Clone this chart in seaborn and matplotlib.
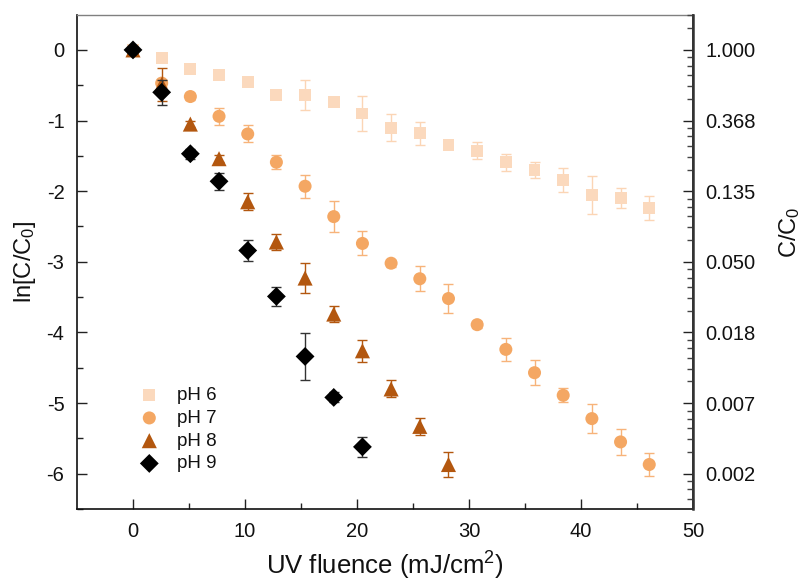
import numpy as np
import pandas as pd
import matplotlib
matplotlib.use("Agg")
import matplotlib.pyplot as plt
import seaborn as sns

# UV fluence (mJ/cm2) and ln[C/C0] with standard deviations for each pH
ph6_x = [0, 2.56, 5.12, 7.68, 10.24, 12.8, 15.36, 17.92, 20.48, 23.04, 25.6,
         28.16, 30.72, 33.28, 35.84, 38.4, 40.96, 43.52, 46.08]
ph6_y = [0, -0.11, -0.27, -0.36, -0.46, -0.64, -0.64, -0.74, -0.90, -1.10, -1.18,
         -1.35, -1.43, -1.59, -1.70, -1.84, -2.05, -2.10, -2.24]
ph6_err = [0, 0.03, 0.03, 0.03, 0.03, 0.04, 0.21, 0.04, 0.25, 0.19, 0.16,
           0.04, 0.12, 0.12, 0.11, 0.17, 0.27, 0.14, 0.165]

ph7_x = [0, 2.56, 5.12, 7.68, 10.24, 12.8, 15.36, 17.92, 20.48, 23.04, 25.6,
         28.16, 30.72, 33.28, 35.84, 38.4, 40.96, 43.52, 46.08]
ph7_y = [0, -0.47, -0.66, -0.94, -1.19, -1.59, -1.93, -2.36, -2.74, -3.02, -3.24,
         -3.52, -3.89, -4.24, -4.57, -4.89, -5.22, -5.55, -5.87]
ph7_err = [0, 0.05, 0.05, 0.12, 0.12, 0.10, 0.16, 0.22, 0.17, 0.05, 0.18,
           0.21, 0.05, 0.16, 0.18, 0.10, 0.21, 0.18, 0.16]

ph8_x = [0, 2.56, 5.12, 7.68, 10.24, 12.8, 15.36, 17.92, 20.48, 23.04, 25.6, 28.16]
ph8_y = [0, -0.49, -1.05, -1.54, -2.15, -2.72, -3.23, -3.74, -4.26, -4.80, -5.33, -5.87]
ph8_err = [0, 0.24, 0.04, 0.05, 0.12, 0.11, 0.21, 0.11, 0.16, 0.12, 0.12, 0.18]

ph9_x = [0, 2.56, 5.12, 7.68, 10.24, 12.8, 15.36, 17.92, 20.48]
ph9_y = [0, -0.60, -1.47, -1.86, -2.84, -3.49, -4.34, -4.92, -5.62]
ph9_err = [0, 0.18, 0.07, 0.12, 0.15, 0.13, 0.33, 0.07, 0.14]

series_labels = ["pH 6", "pH 7", "pH 8", "pH 9"]
series_colors = ["#fbd9bd", "#f4a763", "#b3570f", "#000000"]
errbar_colors = ["#fbd5b5", "#f7b37a", "#b3570f", "#333333"]
series_markers = ["s", "o", "^", "D"]
series_sizes = [74, 88, 118, 92]

left_ticks = [0, -1, -2, -3, -4, -5, -6]
right_tick_labels = ["1.000", "0.368", "0.135", "0.050", "0.018", "0.007", "0.002"]

sns.set_theme(style="ticks")
plt.rcParams["font.family"] = ["Liberation Sans", "DejaVu Sans"]
plt.rcParams["mathtext.fontset"] = "custom"
plt.rcParams["mathtext.rm"] = "Liberation Sans"
plt.rcParams["mathtext.it"] = "Liberation Sans:italic"

frames = []
for lab, xs, ys, es in zip(series_labels,
                           [ph6_x, ph7_x, ph8_x, ph9_x],
                           [ph6_y, ph7_y, ph8_y, ph9_y],
                           [ph6_err, ph7_err, ph8_err, ph9_err]):
    frames.append(pd.DataFrame({"fluence": xs, "lnC": ys, "sd": es, "pH": lab}))
df = pd.concat(frames, ignore_index=True)

fig = plt.figure(figsize=(8.06, 5.84), dpi=100)
ax = fig.add_axes([0.0955, 0.1284, 0.7645, 0.8466])

for i, lab in enumerate(series_labels):
    d = df[df["pH"] == lab]
    ax.errorbar(d["fluence"], d["lnC"], yerr=d["sd"], fmt="none",
                ecolor=errbar_colors[i], elinewidth=1.0, capsize=3.6,
                capthick=1.0, zorder=2 + i * 2)
    sns.scatterplot(data=d, x="fluence", y="lnC", ax=ax, marker=series_markers[i],
                    color=series_colors[i], s=series_sizes[i], edgecolor="none",
                    linewidth=0, label=lab, zorder=3 + i * 2)

ax.set_xlim(-5, 50)
ax.set_ylim(-6.5, 0.5)
ax.set_xticks([0, 10, 20, 30, 40, 50])
ax.set_xticks([5, 15, 25, 35, 45], minor=True)
ax.set_yticks(left_ticks)
ax.set_yticklabels([str(t) for t in left_ticks])
ax.set_yticks([-0.5, -1.5, -2.5, -3.5, -4.5, -5.5, -6.5], minor=True)

ax.tick_params(axis="both", which="major", direction="in", length=7, width=1,
               color="#222222", labelsize=14.5, pad=9, labelcolor="#111111")
ax.tick_params(axis="both", which="minor", direction="in", length=4, width=1,
               color="#222222")
ax.tick_params(axis="y", which="both", right=False)
ax.tick_params(axis="x", which="both", top=False)

ax.set_xlabel("UV fluence (mJ/cm$^2$)", fontsize=18.5, labelpad=7, color="#111111")
ax.set_ylabel("ln[C/C$_0$]", fontsize=17, labelpad=6, color="#111111")

for side in ["left", "bottom"]:
    ax.spines[side].set_color("#111111")
    ax.spines[side].set_linewidth(1.2)
ax.spines["top"].set_color("#808080")
ax.spines["top"].set_linewidth(1.0)

# Secondary axis: the same ln scale labelled as C/C0 ratios
ax2 = ax.twinx()
ax2.set_ylim(ax.get_ylim())
ax2.set_yticks(left_ticks)
ax2.set_yticklabels(right_tick_labels)
minor_right = []
for t in [1] + left_ticks:
    for k in [0.9, 0.8, 0.7, 0.6, 0.5]:
        v = t + np.log(k)
        if -6.5 < v < 0.5:
            minor_right.append(v)
ax2.set_yticks(minor_right, minor=True)
ax2.tick_params(axis="y", which="major", direction="in", length=7, width=1,
                color="#222222", labelsize=14.5, pad=9, labelcolor="#111111")
ax2.tick_params(axis="y", which="minor", direction="in", length=4, width=1,
                color="#444444")
ax2.set_ylabel("C/C$_0$", fontsize=17, color="#111111")
ax2.yaxis.set_label_coords(1.136, 0.56)
ax2.spines["right"].set_color("#333333")
ax2.spines["right"].set_linewidth(1.8)
for side in ["top", "left", "bottom"]:
    ax2.spines[side].set_visible(False)

leg = ax.legend(loc="upper left", bbox_to_anchor=(0.09, 0.262), frameon=False,
                fontsize=13.5, handlelength=1.0, handletextpad=1.0,
                labelspacing=0.3, borderaxespad=0)
for t in leg.get_texts():
    t.set_color("#111111")

fig.savefig("out.png", dpi=100)
